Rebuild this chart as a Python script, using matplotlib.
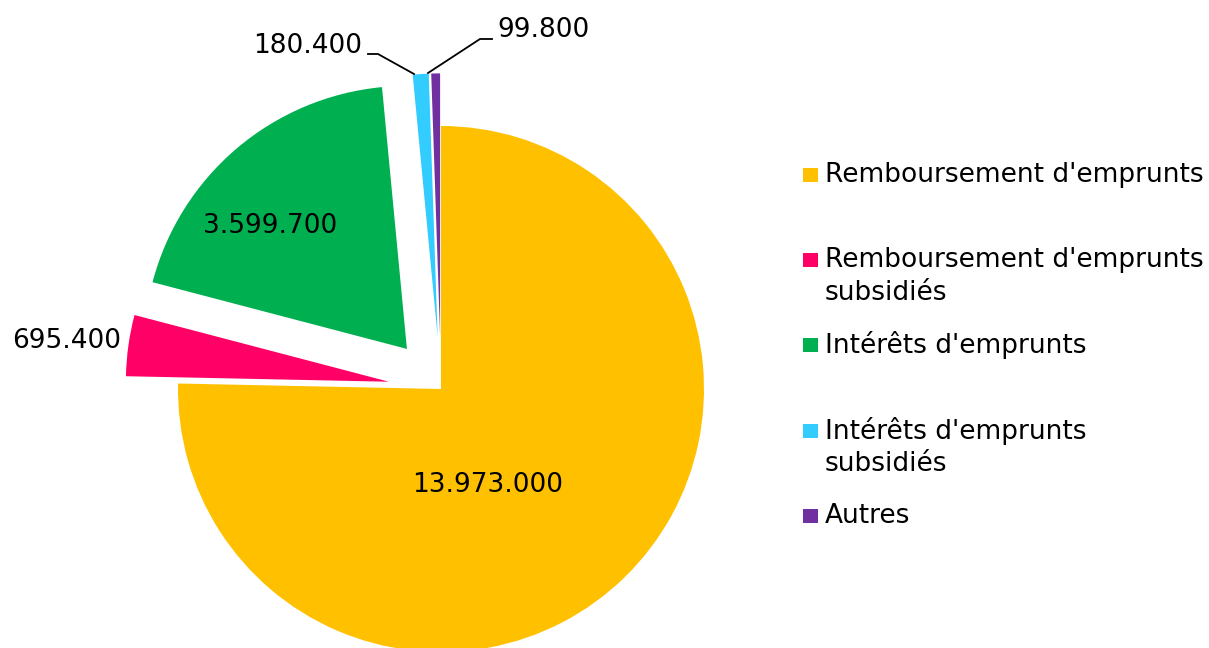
import matplotlib
matplotlib.use("Agg")
import matplotlib.pyplot as plt
from matplotlib.patches import Rectangle

categories = ["Remboursement d'emprunts", "Remboursement d'emprunts\nsubsidiés",
              "Intérêts d'emprunts", "Intérêts d'emprunts\nsubsidiés", "Autres"]
values = [13973000, 695400, 3599700, 180400, 99800]
value_labels = ["13.973.000", "695.400", "3.599.700", "180.400", "99.800"]
colors = ["#FFC000", "#FF0066", "#00B050", "#33CCFF", "#7030A0"]
explode = [0, 0.2, 0.2, 0.2, 0.2]

W, H = 1209, 648
CX, CY, R = 441, 389, 263   # pie centre and radius in pixels
FS = 19


def dx(px):
    return (px - CX) / R


def dy(py):
    return (CY - py) / R


def main():
    plt.rcParams['font.family'] = ['DejaVu Sans']
    fig = plt.figure(figsize=(W / 100, H / 100), dpi=100)
    ax = fig.add_axes([0, 0, 1, 1])
    ax.pie(values, colors=colors, explode=explode, startangle=90,
           counterclock=False, radius=1,
           wedgeprops=dict(linewidth=0))
    ax.set_aspect("auto")
    ax.set_xlim(dx(0), dx(W))
    ax.set_ylim(dy(H), dy(0))
    ax.axis("off")

    # data labels
    ax.text(dx(488), dy(485), value_labels[0], fontsize=FS, ha="center", va="center")
    ax.text(dx(270), dy(226), value_labels[2], fontsize=FS, ha="center", va="center")
    ax.text(dx(121), dy(341), value_labels[1], fontsize=FS, ha="right", va="center")
    ax.text(dx(362), dy(46), value_labels[3], fontsize=FS, ha="right", va="center")
    ax.text(dx(497), dy(30), value_labels[4], fontsize=FS, ha="left", va="center")
    ax.plot([dx(368), dx(378), dx(414)], [dy(54), dy(54), dy(74)], color="black", lw=1.3)
    ax.plot([dx(428), dx(480), dx(492)], [dy(73), dy(39), dy(39)], color="black", lw=1.3)

    # legend, first line of each entry aligned with its square
    rows = [175, 260, 345, 431, 516]
    for cat, col, yc in zip(categories, colors, rows):
        ax.add_patch(Rectangle((dx(803), dy(yc + 7)), 15 / R, 14 / R,
                               facecolor=col, edgecolor="none"))
        for i, line in enumerate(cat.split("\n")):
            ax.text(dx(825), dy(yc + 33 * i), line, fontsize=FS,
                    ha="left", va="center")

    fig.savefig("out.png", dpi=100)
    return 0


if __name__ == "__main__":
    main()
